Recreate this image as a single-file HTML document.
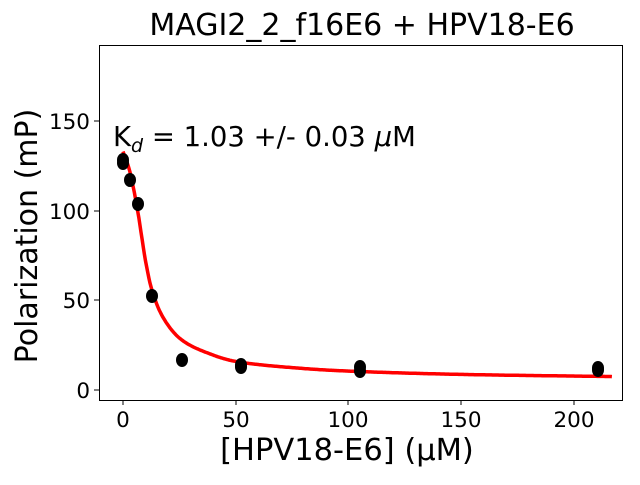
<!DOCTYPE html>
<html><head><meta charset="utf-8"><style>
body{margin:0;background:#fff;}
svg text{font-family:"DejaVu Sans","Liberation Sans",sans-serif;fill:#000}
</style></head><body>
<svg id="s" width="640" height="480" viewBox="0 0 640 480" xmlns="http://www.w3.org/2000/svg">
<rect width="640" height="480" fill="#fff"/>
<text x="362" y="35" font-size="30" text-anchor="middle">MAGI2_2_f16E6 + HPV18-E6</text>
<rect x="99.5" y="45.5" width="523" height="355" fill="none" stroke="#000" stroke-width="1"/>
<g stroke="#000" stroke-width="1">
<line x1="123" y1="400" x2="123" y2="405"/><line x1="236" y1="400" x2="236" y2="405"/>
<line x1="348" y1="400" x2="348" y2="405"/><line x1="461" y1="400" x2="461" y2="405"/>
<line x1="574" y1="400" x2="574" y2="405"/>
<line x1="94" y1="390" x2="99" y2="390"/><line x1="94" y1="300" x2="99" y2="300"/>
<line x1="94" y1="211" x2="99" y2="211"/><line x1="94" y1="121" x2="99" y2="121"/>
</g>
<g font-size="21.5" text-anchor="middle">
<text x="123" y="427">0</text><text x="236" y="427">50</text><text x="348" y="427">100</text>
<text x="461" y="427">150</text><text x="574" y="427">200</text>
</g>
<g font-size="21.5" text-anchor="end">
<text x="90" y="398">0</text><text x="90" y="308">50</text><text x="90" y="219">100</text><text x="90" y="129">150</text>
</g>
<text x="347" y="460" font-size="30.5" text-anchor="middle">[HPV18-E6] (μM)</text>
<text transform="translate(37,236) rotate(-90)" font-size="30" text-anchor="middle">Polarization (mP)</text>
<text x="113" y="146" font-size="27.5">K<tspan font-size="19" dy="6" font-style="italic">d</tspan><tspan dy="-6"> = 1.03 +/- 0.03 </tspan><tspan font-style="italic">μ</tspan>M</text>
<path id="c" fill="none" stroke="#f00" stroke-width="3.5" stroke-linejoin="round"/>
<g fill="#000">
<ellipse cx="123" cy="160" rx="6" ry="7"/><ellipse cx="123" cy="163" rx="6" ry="7"/>
<ellipse cx="130" cy="180" rx="6" ry="7"/><ellipse cx="138" cy="204" rx="6" ry="7"/>
<ellipse cx="152" cy="296" rx="6" ry="7"/><ellipse cx="182" cy="360" rx="6" ry="7"/>
<ellipse cx="241" cy="365" rx="6" ry="7"/><ellipse cx="241" cy="367" rx="6" ry="7"/>
<ellipse cx="360" cy="367" rx="6" ry="7"/><ellipse cx="360" cy="371" rx="6" ry="7"/>
<ellipse cx="598" cy="368" rx="6" ry="7"/><ellipse cx="598" cy="370" rx="6" ry="7"/>
</g>
</svg>
<script>
var P=[[0,133],[3,122],[6.5,100],[10,72],[13,55],[18,40],[26,28],[40,19.5],[52,15.5],[80,12],[105,10.3],[150,8.7],[217,7.5]];
function f(x){for(var i=0;i<P.length-1;i++){if(x<=P[i+1][0]){var a=P[i],b=P[i+1],t=(x-a[0])/(b[0]-a[0]);
var m0=i>0?(P[i+1][1]-P[i-1][1])/(P[i+1][0]-P[i-1][0]):(b[1]-a[1])/(b[0]-a[0]);
var m1=i<P.length-2?(P[i+2][1]-a[1])/(P[i+2][0]-a[0]):(b[1]-a[1])/(b[0]-a[0]);
var h=b[0]-a[0],t2=t*t,t3=t2*t;
return (2*t3-3*t2+1)*a[1]+(t3-2*t2+t)*h*m0+(-2*t3+3*t2)*b[1]+(t3-t2)*h*m1;}}return P[P.length-1][1];}
var d="";for(var x=0;x<=217;x+=0.5){var px=123+x*2.253,py=390-f(x)*1.793;d+=(x?"L":"M")+px.toFixed(1)+","+py.toFixed(1);}
document.getElementById("c").setAttribute("d",d);
</script>
</body></html>
